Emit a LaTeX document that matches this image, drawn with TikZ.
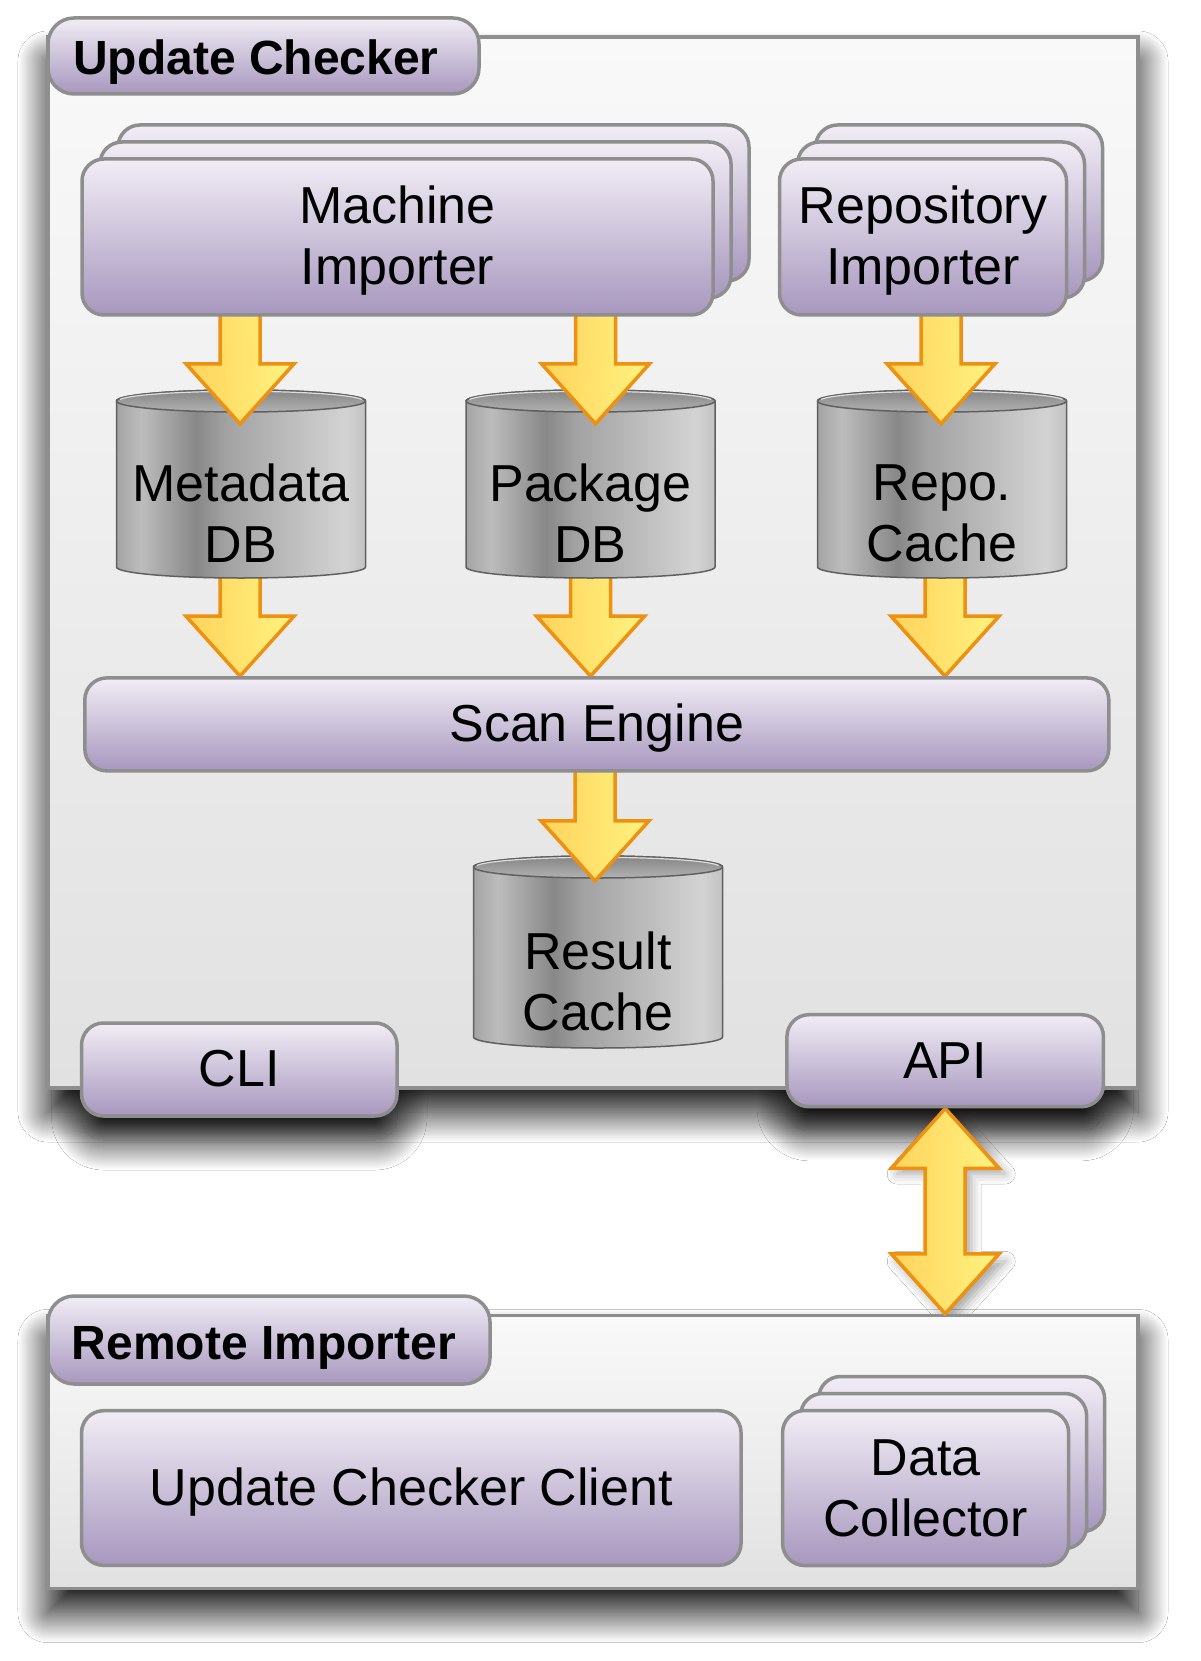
\documentclass[tikz,border=0pt]{standalone}
\usepackage{fontspec}
\setmainfont{Liberation Sans}
\usetikzlibrary{calc,shadows.blur}
\pgfdeclarelayer{lyrback}\pgfdeclarelayer{lyrarrlo}\pgfdeclarelayer{lyrcyl}\pgfdeclarelayer{lyrarrhi}
\pgfsetlayers{lyrback,lyrarrlo,lyrcyl,lyrarrhi,main}
\definecolor{bord}{HTML}{8E8E8E}
\definecolor{purT}{HTML}{F1EDF5}
\definecolor{purB}{HTML}{A797BE}
\definecolor{boxT}{HTML}{F9F9F9}
\definecolor{boxB}{HTML}{E1E1E1}
\definecolor{arrL}{HTML}{FFD35C}
\definecolor{arrR}{HTML}{FFF380}
\definecolor{arrD}{HTML}{EE9010}
\definecolor{cA}{HTML}{A4A4A4}
\definecolor{cB}{HTML}{BCBCBC}
\definecolor{cC}{HTML}{888888}
\definecolor{cD}{HTML}{A2A2A2}
\definecolor{cE}{HTML}{D3D3D3}
\definecolor{cF}{HTML}{C2C2C2}
\definecolor{cEdge}{HTML}{606060}
\definecolor{cTopA}{HTML}{858585}
\definecolor{cTopB}{HTML}{B2B2B2}
\definecolor{cRim}{HTML}{DDDDDD}
\pgfdeclarehorizontalshading{cylshade}{100bp}{color(0bp)=(cA); color(25bp)=(cA); color(30bp)=(cB); color(41bp)=(cC); color(47bp)=(cD); color(71bp)=(cE); color(75bp)=(cF); color(100bp)=(cF)}
\tikzset{
  sz/.style 2 args={minimum width=#1pt, minimum height=#2pt},
  pbox/.style={rectangle, rounded corners=22pt, draw=bord, line width=3.5pt,
    top color=purT, bottom color=purB, inner sep=0pt,
    font=\fontsize{52}{61}\selectfont, align=center},
  boxtext/.style 2 args={label={[font=\fontsize{52}{61}\selectfont, align=center, inner sep=0pt, yshift=#1pt]center:{#2}}},
  tabbox/.style={pbox, rounded corners=26pt},
  titletext/.style={font=\fontsize{48}{56}\selectfont\bfseries, inner sep=0pt},
  outerbox/.style={rectangle, draw=bord, line width=3.5pt, top color=boxT, bottom color=boxB, inner sep=0pt},
  fatarr/.style={draw=arrD, line width=3.5pt, left color=arrL, right color=arrR, line join=miter},
  cylfill/.style={shading=cylshade, draw=cEdge, line width=1.5pt},
  cyltop/.style={draw=cEdge, line width=1.5pt, top color=cTopA, bottom color=cTopB},
  dbtext/.style={font=\fontsize{52}{61}\selectfont, align=center, inner sep=0pt},
  bigshadow/.style={blur shadow={shadow xshift=0pt, shadow yshift=-24pt, shadow blur radius=30pt, shadow blur steps=48, shadow opacity=95}},
  smallshadow/.style={blur shadow={shadow xshift=6pt, shadow yshift=-6pt, shadow blur radius=10pt, shadow opacity=35}},
}
\newcommand\fatdown[2]{%
  \path[fatarr] let \p1=#1, \p2=#2 in
    (\x1-20pt,\y1) -- (\x1-20pt,\y2+60pt) -- (\x1-54pt,\y2+60pt) -- (\x1,\y2)
    -- (\x1+54pt,\y2+60pt) -- (\x1+20pt,\y2+60pt) -- (\x1+20pt,\y1) -- cycle;}
\newcommand\fatboth[3]{%
  \path[#1] let \p1=#2, \p2=#3 in
    (\x1,\y1) -- (\x1+54pt,\y1-60pt) -- (\x1+20pt,\y1-60pt) -- (\x1+20pt,\y2+60pt)
    -- (\x1+54pt,\y2+60pt) -- (\x1,\y2) -- (\x1-54pt,\y2+60pt) -- (\x1-20pt,\y2+60pt)
    -- (\x1-20pt,\y1-60pt) -- (\x1-54pt,\y1-60pt) -- cycle;}
\newcommand\dbcyl[6]{% name, cx, cy, side half height, total height, text
  \node[sz={249}{#5}, inner sep=0pt] (#1) at (#2,#3) {};
  \path[cylfill] (#2-124.5,#3-#4) -- (#2-124.5,#3+#4)
    arc[start angle=180,end angle=360,x radius=124.5pt,y radius=11pt]
    -- (#2+124.5,#3-#4)
    arc[start angle=0,end angle=180,x radius=124.5pt,y radius=11pt] -- cycle;
  \path[cyltop] (#2,#3-#4) ellipse[x radius=124.5pt, y radius=11pt];
  \draw[cRim, line width=1.2pt] (#2-121,#3-#4-1.5)
    arc[start angle=172,end angle=8,x radius=122pt,y radius=9.5pt];
  \node[dbtext] (#1t) at (#2,#3+29) {#6};
}
\begin{document}
\begin{tikzpicture}[x=1pt,y=-1pt]
\useasboundingbox (0,0) rectangle (1200,1661);
% background, shadows and containers
\begin{pgfonlayer}{lyrback}
  \fill[white] (0,0) rectangle (1200,1661);
  \path[bigshadow] (48,37) rectangle (1138,1088);
  \path[bigshadow, rounded corners=22pt] (81.5,1023) rectangle (397,1116);
  \path[bigshadow, rounded corners=22pt] (787,1014.6) rectangle (1103.5,1106.8);
  \path[bigshadow] (48,1315.4) rectangle (1138,1588.6);
  \fatboth{smallshadow}{(945.2,1108)}{(945.2,1315.4)}
  \node[outerbox, sz={1090}{1051}] (ucb) at (593,562.5) {};
  \node[outerbox, sz={1090}{273}] (rib) at (593,1452) {};
  \node[tabbox, sz={431}{76}] (uctab) at (263.5,56) {};
  \node[titletext] (uctitle) at (256,62) {Update Checker};
  \node[tabbox, sz={442}{88}] (ritab) at (269,1340) {};
  \node[titletext] (rititle) at (264,1348) {Remote Importer};
\end{pgfonlayer}
% databases
\begin{pgfonlayer}{lyrcyl}
  \dbcyl{md}{241}{484}{83}{188}{Metadata\\DB}
  \dbcyl{pd}{590.5}{484}{83}{188}{Package\\DB}
  \dbcyl{rc}{942}{484}{83}{188}{Repo.\\Cache}
  \dbcyl{rs}{598}{952}{85}{192}{Result\\Cache}
\end{pgfonlayer}
% components
\node[pbox, sz={631}{156}] (mi2) at (433.5,203) {};
\node[pbox, sz={631}{156}] (mi1) at (415.5,220) {};
\node[pbox, sz={631}{156}, boxtext={-4}{Machine\\Importer}] (mi) at (397.5,237) {};
\node[pbox, sz={287}{156}] (ri2) at (959,203) {};
\node[pbox, sz={287}{156}] (ri1) at (941,220) {};
\node[pbox, sz={287}{156}, boxtext={-4}{Repository\\Importer}] (ri) at (923,237) {};
\node[pbox, sz={1024}{93}, boxtext={-4}{Scan Engine}] (se) at (596.8,724.4) {};
\node[pbox, sz={315.5}{93}, boxtext={1}{CLI}] (cli) at (239.3,1069.5) {};
\node[pbox, sz={316.5}{92}] (api) at (945.2,1060.7) {API};
\node[pbox, sz={659.5}{154.6}, boxtext={-4}{Update Checker Client}] (ucc) at (411.3,1488) {};
\node[pbox, sz={286}{155}] (dc2) at (961.6,1454) {};
\node[pbox, sz={286}{155}] (dc1) at (943.6,1471) {};
\node[pbox, sz={286}{155}] (dc) at (925.6,1488) {Data\\Collector};
% arrows
\begin{pgfonlayer}{lyrarrhi}
  \fatdown{($(md.north |- mi.south)+(-1,-6)$)}{($(md.north)+(-1,34)$)}
  \fatdown{($(pd.north |- mi.south)+(5,-6)$)}{($(pd.north)+(5,34)$)}
  \fatdown{($(rc.north |- ri.south)+(-1,-6)$)}{($(rc.north)+(-1,34)$)}
  \fatdown{($(rs.north |- se.south)+(-3,-6)$)}{($(rs.north)+(-3,25)$)}
  \fatboth{fatarr}{(api.south)}{(api.south |- rib.north)}
\end{pgfonlayer}
\begin{pgfonlayer}{lyrarrlo}
  \fatdown{($(md.south)+(-1,-14)$)}{($(md.south |- se.north)+(-1,0)$)}
  \fatdown{($(pd.south)+(0,-14)$)}{(pd.south |- se.north)}
  \fatdown{($(rc.south)+(3,-14)$)}{($(rc.south |- se.north)+(3,0)$)}
\end{pgfonlayer}
\end{tikzpicture}
\end{document}
